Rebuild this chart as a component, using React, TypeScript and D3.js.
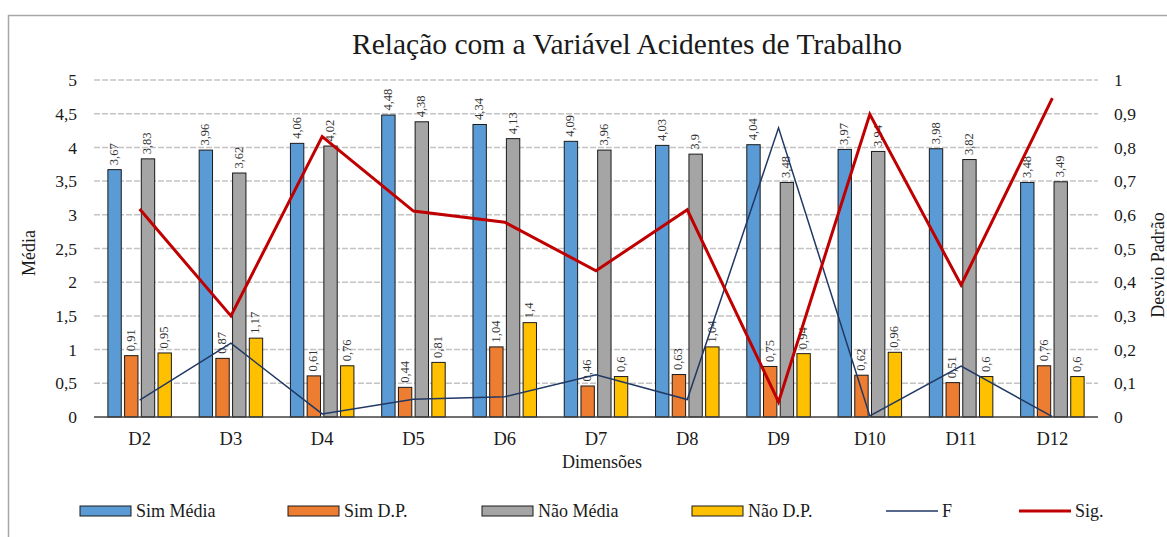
import { useEffect, useRef } from 'react'
import * as d3 from 'd3'

const categories = ['D2', 'D3', 'D4', 'D5', 'D6', 'D7', 'D8', 'D9', 'D10', 'D11', 'D12']
const simMedia = [3.67, 3.96, 4.06, 4.48, 4.34, 4.09, 4.03, 4.04, 3.97, 3.98, 3.48]
const simDP = [0.91, 0.87, 0.61, 0.44, 1.04, 0.46, 0.63, 0.75, 0.62, 0.51, 0.76]
const naoMedia = [3.83, 3.62, 4.02, 4.38, 4.13, 3.96, 3.9, 3.48, 3.94, 3.82, 3.49]
const naoDP = [0.95, 1.17, 0.76, 0.81, 1.4, 0.6, 1.04, 0.94, 0.96, 0.6, 0.6]
const fValues = [0.05, 0.219, 0.009, 0.053, 0.06, 0.125, 0.052, 0.858, 0.003, 0.151, 0.001]
const sigValues = [0.617, 0.3, 0.832, 0.611, 0.578, 0.434, 0.615, 0.045, 0.898, 0.392, 0.946]
const leftTicks = [0, 0.5, 1, 1.5, 2, 2.5, 3, 3.5, 4, 4.5, 5]
const rightTicks = [0, 0.1, 0.2, 0.3, 0.4, 0.5, 0.6, 0.7, 0.8, 0.9, 1]

const barSeries = [
  { name: 'Sim Média', values: simMedia, color: '#5b9bd5' },
  { name: 'Sim D.P.', values: simDP, color: '#ed7d31' },
  { name: 'Não Média', values: naoMedia, color: '#a5a5a5' },
  { name: 'Não D.P.', values: naoDP, color: '#ffc000' }
]
const lineSeries = [
  { name: 'F', values: fValues, color: '#203864', width: 1.5 },
  { name: 'Sig.', values: sigValues, color: '#c00000', width: 3 }
]

const fmt = (v: number) => String(v).replace('.', ',')
const FONT = '"Liberation Serif", "Times New Roman", serif'

export default function App() {
  const svgRef = useRef<SVGSVGElement>(null)

  useEffect(() => {
    if (!svgRef.current) return
    const svg = d3.select(svgRef.current)
    svg.selectAll('*').remove()

    const width = 1167
    const height = 537
    const plot = { left: 94, right: 1098, top: 80, bottom: 417 }

    svg.attr('width', width).attr('height', height).style('font-family', FONT)

    // frame
    svg.append('rect')
      .attr('x', 8.5).attr('y', 15.5)
      .attr('width', 1200).attr('height', 600)
      .attr('fill', '#fff').attr('stroke', '#a6a6a6').attr('stroke-width', 1.5)

    const x0 = d3.scaleBand<string>().domain(categories).range([plot.left, plot.right])
    const groupW = 63.5
    const x1 = d3.scaleBand<string>()
      .domain(barSeries.map(s => s.name))
      .range([(x0.bandwidth() - groupW) / 2, (x0.bandwidth() + groupW) / 2])
      .paddingInner(0.2)
    const yL = d3.scaleLinear().domain([0, 5]).range([plot.bottom, plot.top])
    const yR = d3.scaleLinear().domain([0, 1]).range([plot.bottom, plot.top])

    // gridlines
    svg.append('g')
      .selectAll('line')
      .data(leftTicks.filter(t => t > 0))
      .enter()
      .append('line')
      .attr('x1', plot.left).attr('x2', plot.right)
      .attr('y1', d => yL(d)).attr('y2', d => yL(d))
      .attr('stroke', '#c4c4c4').attr('stroke-width', 1.5)
      .attr('stroke-dasharray', '6,2')

    // left ticks
    svg.append('g')
      .selectAll('text')
      .data(leftTicks)
      .enter()
      .append('text')
      .attr('x', 77).attr('y', d => yL(d))
      .attr('dy', '0.35em')
      .attr('text-anchor', 'end')
      .attr('font-size', 17.5).attr('fill', '#1a1a1a')
      .text(d => fmt(d))

    // right ticks
    svg.append('g')
      .selectAll('text')
      .data(rightTicks)
      .enter()
      .append('text')
      .attr('x', 1114).attr('y', d => yR(d))
      .attr('dy', '0.35em')
      .attr('text-anchor', 'start')
      .attr('font-size', 17.5).attr('fill', '#1a1a1a')
      .text(d => fmt(d))

    // bars
    barSeries.forEach(s => {
      const g = svg.append('g')
      g.selectAll('rect')
        .data(s.values)
        .enter()
        .append('rect')
        .attr('x', (_, i) => (x0(categories[i]) ?? 0) + (x1(s.name) ?? 0))
        .attr('y', d => yL(d))
        .attr('width', x1.bandwidth())
        .attr('height', d => plot.bottom - yL(d))
        .attr('fill', s.color)
        .attr('stroke', '#1a1a1a').attr('stroke-width', 1)

      g.selectAll('text')
        .data(s.values)
        .enter()
        .append('text')
        .attr('transform', (d, i) => {
          const cx = (x0(categories[i]) ?? 0) + (x1(s.name) ?? 0) + x1.bandwidth() / 2
          return `translate(${cx + 3.5},${yL(d) - 4.5}) rotate(-90)`
        })
        .attr('text-anchor', 'start')
        .attr('font-size', 12.5).attr('fill', '#333')
        .text(d => fmt(d))
    })

    // baseline
    svg.append('line')
      .attr('x1', plot.left).attr('x2', plot.right)
      .attr('y1', plot.bottom).attr('y2', plot.bottom)
      .attr('stroke', '#404040').attr('stroke-width', 1.5)

    // lines
    const cx = (i: number) => (x0(categories[i]) ?? 0) + x0.bandwidth() / 2
    lineSeries.forEach(s => {
      const line = d3.line<number>()
        .x((_, i) => cx(i))
        .y(d => yR(d))
      svg.append('path')
        .datum(s.values)
        .attr('fill', 'none')
        .attr('stroke', s.color)
        .attr('stroke-width', s.width)
        .attr('stroke-linejoin', 'miter')
        .attr('d', line)
    })

    // category labels
    svg.append('g')
      .selectAll('text')
      .data(categories)
      .enter()
      .append('text')
      .attr('x', (_, i) => cx(i)).attr('y', 439)
      .attr('dy', '0.35em')
      .attr('text-anchor', 'middle')
      .attr('font-size', 18.5).attr('fill', '#1a1a1a')
      .text(d => d)

    // titles
    svg.append('text')
      .attr('x', 627).attr('y', 44).attr('dy', '0.35em')
      .attr('text-anchor', 'middle')
      .attr('font-size', 29.5).attr('fill', '#1a1a1a')
      .text('Relação com a Variável Acidentes de Trabalho')

    svg.append('text')
      .attr('x', 602).attr('y', 462).attr('dy', '0.35em')
      .attr('text-anchor', 'middle')
      .attr('font-size', 18).attr('fill', '#1a1a1a')
      .text('Dimensões')

    svg.append('text')
      .attr('transform', `translate(29,253) rotate(-90)`)
      .attr('dy', '0.35em')
      .attr('text-anchor', 'middle')
      .attr('font-size', 18).attr('fill', '#1a1a1a')
      .text('Média')

    svg.append('text')
      .attr('transform', `translate(1158,265) rotate(-90)`)
      .attr('dy', '0.35em')
      .attr('text-anchor', 'middle')
      .attr('font-size', 18).attr('fill', '#1a1a1a')
      .text('Desvio Padrão')

    // legend
    const legendY = 511
    const barLegendX = [80, 288, 482, 692]
    barSeries.forEach((s, i) => {
      svg.append('rect')
        .attr('x', barLegendX[i]).attr('y', legendY - 5)
        .attr('width', 51).attr('height', 10)
        .attr('fill', s.color).attr('stroke', '#1a1a1a').attr('stroke-width', 1)
      svg.append('text')
        .attr('x', barLegendX[i] + 56).attr('y', legendY).attr('dy', '0.35em')
        .attr('font-size', 18).attr('fill', '#1a1a1a')
        .text(s.name)
    })
    const lineLegendX = [886, 1019]
    lineSeries.forEach((s, i) => {
      svg.append('line')
        .attr('x1', lineLegendX[i]).attr('x2', lineLegendX[i] + 52)
        .attr('y1', legendY).attr('y2', legendY)
        .attr('stroke', s.color).attr('stroke-width', s.width)
      svg.append('text')
        .attr('x', lineLegendX[i] + 56).attr('y', legendY).attr('dy', '0.35em')
        .attr('font-size', 18).attr('fill', '#1a1a1a')
        .text(s.name)
    })
  }, [])

  return (
    <svg ref={svgRef} style={{ position: 'absolute', left: 0, top: 0, display: 'block' }}></svg>
  )
}
